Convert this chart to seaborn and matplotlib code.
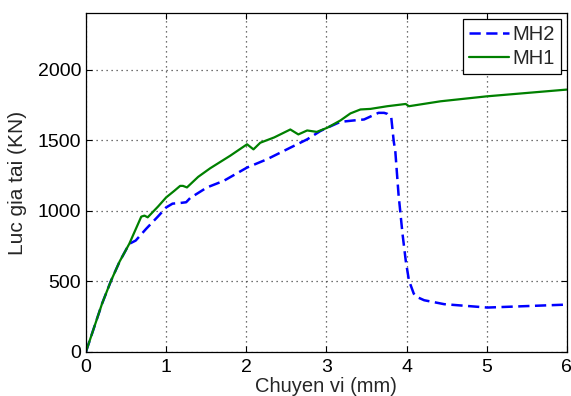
import pandas as pd
import seaborn as sns
import matplotlib
matplotlib.use("Agg")
import matplotlib.pyplot as plt

# load-displacement curves
mh1_x = [0, 0.1, 0.2, 0.31, 0.42, 0.54, 0.69, 0.73, 0.77, 0.9, 1.0, 1.1, 1.175,
         1.21, 1.26, 1.4, 1.55, 1.8, 2.01, 2.09, 2.175, 2.35, 2.55, 2.65, 2.76,
         2.88, 3.01, 3.175, 3.3, 3.425, 3.55, 3.76, 3.99, 4.03, 4.425, 5.0, 6.0]
mh1_y = [0, 170, 340, 500, 640, 765, 958, 965, 953, 1030, 1094, 1140, 1176,
         1176, 1165, 1240, 1301, 1390, 1471, 1435, 1482, 1520, 1576, 1541, 1569,
         1559, 1588, 1640, 1690, 1718, 1722, 1741, 1757, 1741, 1776, 1811, 1859]

mh2_x = [0, 0.1, 0.2, 0.31, 0.42, 0.54, 0.62, 0.75, 0.9, 1.0, 1.08, 1.18, 1.25,
         1.3, 1.51, 1.72, 2.01, 2.26, 2.55, 2.76, 2.925, 3.01, 3.175, 3.34, 3.47,
         3.65, 3.72, 3.76, 3.81, 3.84, 3.86, 3.9, 3.95, 3.99, 4.03, 4.09, 4.13,
         4.22, 4.47, 5.01, 6.0]
mh2_y = [0, 170, 340, 500, 640, 765, 788, 871, 960, 1023, 1050, 1055, 1060,
         1090, 1165, 1212, 1306, 1365, 1447, 1506, 1565, 1588, 1630, 1640, 1647,
         1694, 1694, 1687, 1659, 1494, 1423, 1118, 836, 647, 506, 412, 388,
         365, 337, 313, 334]

x_ticks = [0, 1, 2, 3, 4, 5, 6]
y_ticks = [0, 500, 1000, 1500, 2000]

df1 = pd.DataFrame({"x": mh1_x, "y": mh1_y})
df2 = pd.DataFrame({"x": mh2_x, "y": mh2_y})

sns.set_style("ticks")
plt.rcParams['font.family'] = ['Liberation Sans', 'DejaVu Sans']

fig = plt.figure(figsize=(5.71, 3.96), dpi=100)
ax = fig.add_axes([0.1506, 0.1119, 0.842, 0.8545])

sns.lineplot(data=df2, x="x", y="y", ax=ax, sort=False, color="#0000ff",
             linestyle=(0, (4.5, 2.2)), linewidth=1.8, label="MH2")
sns.lineplot(data=df1, x="x", y="y", ax=ax, sort=False, color="#008000",
             linewidth=1.6, label="MH1")

ax.set_xlim(0, 6)
ax.set_ylim(0, 2400)
ax.set_xticks(x_ticks)
ax.set_yticks(y_ticks)
ax.grid(True, linestyle=(0, (1, 3)), color="#444444", linewidth=0.9)
ax.tick_params(direction="in", top=True, right=True, labelsize=14, length=4,
               width=0.8, colors="black")
ax.tick_params(axis="x", pad=5)
for s in ax.spines.values():
    s.set_color("black")
    s.set_linewidth(0.9)
    s.set_visible(True)

ax.set_xlabel("Chuyen vi (mm)", fontsize=14.5, labelpad=1)
ax.set_ylabel("Luc gia tai (KN)", fontsize=15, labelpad=8)

leg = ax.legend(loc="upper right", fontsize=14.5, fancybox=False, framealpha=1,
                edgecolor="black", handlelength=2.0, handletextpad=0.15,
                borderaxespad=0.3, labelspacing=0.25, borderpad=0.3)
leg.get_frame().set_linewidth(0.9)

fig.savefig("out.png", dpi=100)
